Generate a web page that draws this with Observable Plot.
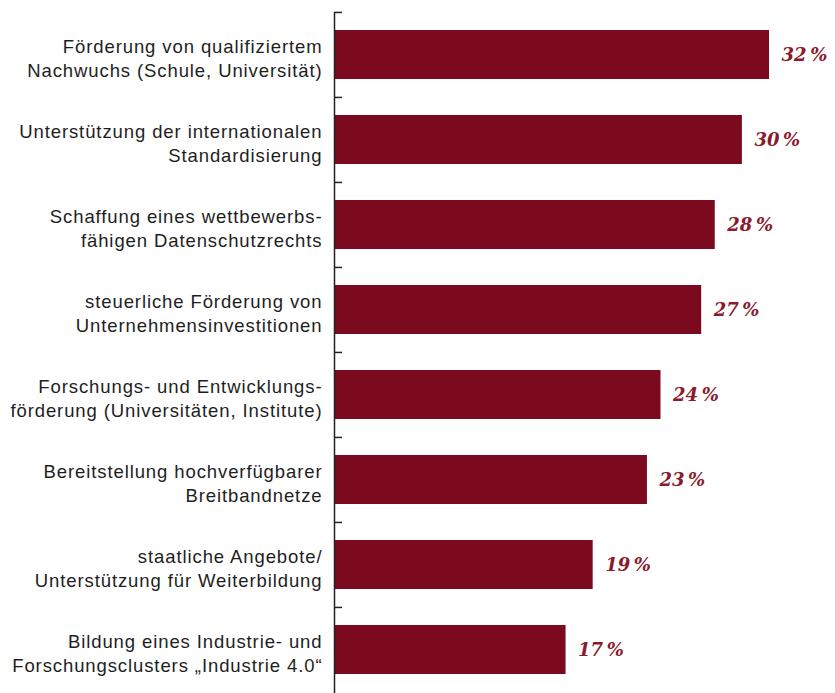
<!DOCTYPE html>
<html>
<head>
<meta charset="utf-8">
<script src="https://cdn.jsdelivr.net/npm/d3@7"></script>
<script src="https://cdn.jsdelivr.net/npm/@observablehq/plot@0.6"></script>
<style>
  html, body { margin: 0; padding: 0; background: #fff; }
  #chart svg { display: block; }
  .cat-label text { letter-spacing: 0.9px; }
</style>
</head>
<body>
<div id="chart"></div>
<script>
const labels = [
  "Förderung von qualifiziertem\nNachwuchs (Schule, Universität)",
  "Unterstützung der internationalen\nStandardisierung",
  "Schaffung eines wettbewerbs-\nfähigen Datenschutzrechts",
  "steuerliche Förderung von\nUnternehmensinvestitionen",
  "Forschungs- und Entwicklungs-\nförderung (Universitäten, Institute)",
  "Bereitstellung hochverfügbarer\nBreitbandnetze",
  "staatliche Angebote/\nUnterstützung für Weiterbildung",
  "Bildung eines Industrie- und\nForschungsclusters „Industrie 4.0“"
];
const values = [32, 30, 28, 27, 24, 23, 19, 17];

const data = labels.map((label, i) => ({label, value: values[i]}));

const W = 835, H = 693;
const mL = 335, mR = 66, mT = 12, mB = 0;
const xMax = 32;
const pxPerUnit = (W - mL - mR) / xMax;
const step = (H - mT - mB) / labels.length;
const tickLen = 8 / pxPerUnit;

const chart = Plot.plot({
  width: W,
  height: H,
  marginLeft: mL,
  marginRight: mR,
  marginTop: mT,
  marginBottom: mB,
  style: {background: "#fff", fontFamily: "'Liberation Sans', Arial, sans-serif"},
  x: {domain: [0, xMax], axis: null},
  y: {domain: labels, axis: null, paddingInner: 0.42, paddingOuter: 0.21},
  marks: [
    Plot.barX(data, {x: "value", y: "label", fill: "#7b0a1f"}),
    Plot.ruleX([0], {dx: -1, stroke: "#222", strokeWidth: 1.5}),
    Plot.ruleY(labels, {y: d => d, x1: 0, x2: tickLen, dx: -1, dy: -step / 2, stroke: "#222", strokeWidth: 1.5}),
    Plot.text(data, {
      x: 0, y: "label", text: "label", textAnchor: "end", dx: -13, dy: 2,
      fontSize: 18.5, lineHeight: 1.35, fill: "#1e1e1e", className: "cat-label"
    }),
    Plot.text(data, {
      x: "value", y: "label", text: d => `${d.value}\u202F%`, textAnchor: "start", dx: 12,
      fontSize: 18, fontWeight: "bold", fontStyle: "italic",
      fontFamily: "'DejaVu Serif', serif", fill: "#8a1a2c"
    })
  ]
});
document.getElementById("chart").appendChild(chart);
</script>
</body>
</html>
